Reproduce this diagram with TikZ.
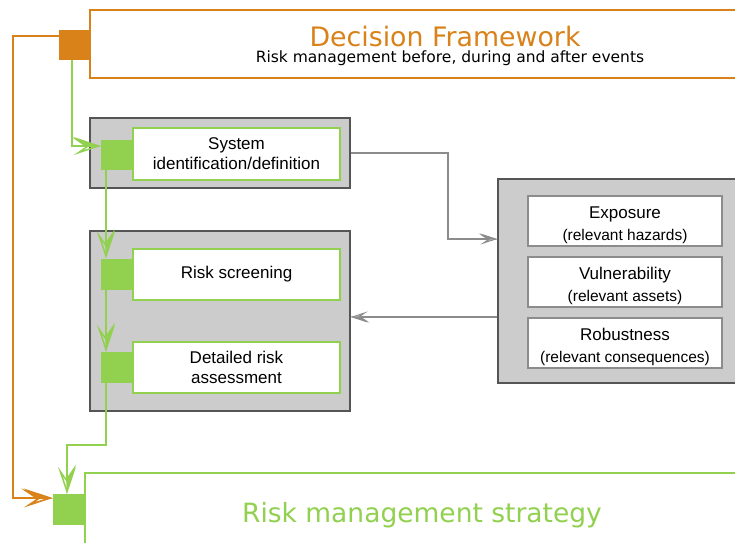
\documentclass[tikz,border=0pt]{standalone}
\usepackage{fontspec}
\setmainfont{Liberation Sans}
\newfontfamily\dejavu{DejaVu Sans}
\usetikzlibrary{arrows.meta}
\definecolor{orng}{HTML}{D9821A}
\definecolor{grn}{HTML}{92D050}
\definecolor{gboxfill}{HTML}{CCCCCC}
\definecolor{gboxline}{HTML}{555555}
\definecolor{conn}{HTML}{8C8C8C}
\definecolor{wline}{HTML}{8C8C8C}
\newcommand\subtxt{\fontsize{15.5}{22}\selectfont}
\newcommand\headtxt[1]{\raisebox{0pt}[20.5pt]{#1}}
\begin{document}
\begin{tikzpicture}[x=1pt,y=-1pt,
  greybox/.style={draw=gboxline, fill=gboxfill, line width=1.2pt, inner sep=0pt},
  stepbox/.style={draw=grn, fill=white, line width=2pt, align=center, inner sep=0pt,
    minimum width=207pt, font=\fontsize{17}{20}\selectfont},
  infobox/.style={draw=wline, fill=white, line width=1.2pt, align=center, inner sep=0pt,
    minimum width=194pt, minimum height=50pt, font=\fontsize{17}{22}\selectfont},
  gsq/.style={fill=grn, draw=none, inner sep=0pt, minimum width=32pt, minimum height=31pt},
  garrow/.style={draw=grn, line width=2pt, -{Stealth[open,length=27pt,width=18pt,inset=13pt,line width=1.5pt]}},
  garrowh/.style={draw=grn, line width=2pt, -{Stealth[harpoon,length=27pt,width=18pt,inset=13pt,line width=1.5pt]}},
  oarrow/.style={draw=orng, line width=2.5pt, -{Stealth[open,length=29pt,width=19pt,inset=14pt,line width=1.7pt]}},
  oarrowh/.style={draw=orng, line width=2.5pt, -{Stealth[harpoon,length=29pt,width=19pt,inset=14pt,line width=1.7pt]}},
  carrow/.style={draw=conn, line width=1.3pt, -{Stealth[open,length=17pt,width=11pt,inset=8pt,line width=1.1pt]}},
  carrowh/.style={draw=conn, line width=1.3pt, -{Stealth[harpoon,length=17pt,width=11pt,inset=8pt,line width=1.1pt]}}
]
\useasboundingbox (0,0) rectangle (735,542);
\clip (0,0) rectangle (735,542);
\fill[white] (0,0) rectangle (735,542);

% Decision framework
\node[draw=orng, fill=white, line width=2pt, minimum width=655pt, minimum height=68pt, inner sep=0pt] (df) at (417.5,44) {};
\node[anchor=base, text=orng, font=\dejavu\fontsize{26.8}{30}\selectfont] (dft) at (445,46) {Decision Framework};
\node[anchor=base, font=\dejavu\fontsize{15.5}{18}\selectfont] (dfs) at (450,62) {Risk management before, during and after events};
\node[fill=orng, inner sep=0pt, minimum width=31pt, minimum height=30pt] (osq) at (74.5,45) {};

% Risk management strategy
\node[draw=grn, fill=white, line width=2pt, minimum width=660pt, minimum height=87pt, inner sep=0pt] (rms) at (415,516.5) {};
\node[anchor=base, text=grn, font=\dejavu\fontsize{26.5}{30}\selectfont] (rmst) at (422,522) {Risk management strategy};
\node[gsq] (rsq) at (69,509.5) {};

% grey groups
\node[greybox, minimum width=260pt, minimum height=70pt] (g1) at (220,153) {};
\node[greybox, minimum width=260pt, minimum height=180pt] (g2) at (220,321) {};
\node[greybox, minimum width=247pt, minimum height=204pt] (g3) at (621.5,281) {};

% steps
\node[stepbox, minimum height=52pt] (b1) at (236.5,154) {System\\identification/definition};
\node[gsq, minimum height=30pt] (s1) at (117,155) {};
\node[stepbox, minimum height=51pt] (b2) at (236.5,274.5) {Risk screening};
\node[gsq] (s2) at (117,274) {};
\node[stepbox, minimum height=51pt] (b3) at (236.5,367.5) {Detailed risk\\assessment};
\node[gsq] (s3) at (117,367.5) {};

% info boxes
\node[infobox] (i1) at (625,221) {\headtxt{Exposure}\\{\subtxt (relevant hazards)}};
\node[infobox] (i2) at (625,282) {\headtxt{Vulnerability}\\{\subtxt (relevant assets)}};
\node[infobox] (i3) at (625,343) {\headtxt{Robustness}\\{\subtxt (relevant consequences)}};

% connectors
\coordinate (c1) at (13,36);
\coordinate (c2) at (13,498);
\draw[oarrow] (osq.west |- c1) -- (c1) -- (c2) -- (rsq.west |- c2);
\draw[oarrowh] (c2) -- (rsq.west |- c2);

\coordinate (k1) at (72,146);
\draw[garrow] (osq.south -| k1) -- (k1) -- (s1.west |- k1);
\draw[garrowh] (k1) -- (s1.west |- k1);
\coordinate (v) at (106,0);
\draw[garrow] (s1.south -| v) -- (s2.north -| v);
\draw[garrowh] (s1.south -| v) -- (s2.north -| v);
\draw[garrow] (s2.south -| v) -- (s3.north -| v);
\draw[garrowh] (s2.south -| v) -- (s3.north -| v);
\coordinate (k2) at (106,445);
\coordinate (k3) at (67,445);
\draw[garrow] (s3.south -| k2) -- (k2) -- (k3) -- (rsq.north -| k3);
\draw[garrowh] (k3) -- (rsq.north -| k3);

\coordinate (k4) at (448,153);
\coordinate (k5) at (448,239);
\draw[carrow] (g1.east |- k4) -- (k4) -- (k5) -- (g3.west |- k5);
\draw[carrowh] (k5) -- (g3.west |- k5);
\coordinate (k6) at (0,317);
\draw[carrow] (g3.west |- k6) -- (g2.east |- k6);
\draw[carrowh] (g3.west |- k6) -- (g2.east |- k6);
\end{tikzpicture}
\end{document}
